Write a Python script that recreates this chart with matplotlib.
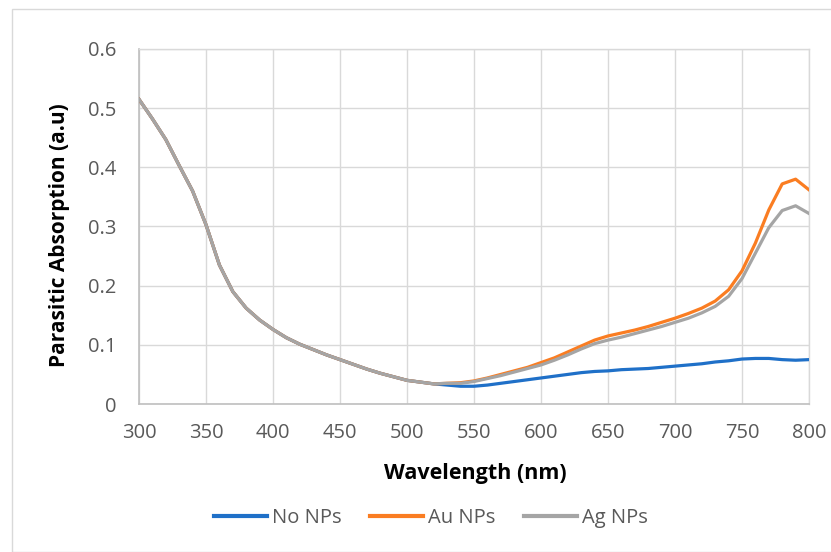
import matplotlib
matplotlib.use("Agg")
import matplotlib.pyplot as plt
from matplotlib.patches import Rectangle

# ---- data ----
wl_common = [300, 310, 320, 330, 340, 350, 360, 370, 380, 390, 400, 410, 420,
             430, 440, 450, 460, 470, 480, 490, 500, 510, 520]
abs_common = [0.515, 0.482, 0.447, 0.403, 0.360, 0.303, 0.235, 0.190, 0.162,
              0.142, 0.126, 0.112, 0.101, 0.092, 0.083, 0.075, 0.067, 0.059,
              0.052, 0.046, 0.040, 0.037, 0.034]

wl_tail = [530, 540, 550, 560, 570, 580, 590, 600, 610, 620, 630, 640, 650,
           660, 670, 680, 690, 700, 710, 720, 730, 740, 750, 760, 770, 780,
           790, 800]
no_nps_tail = [0.032, 0.030, 0.030, 0.032, 0.035, 0.038, 0.041, 0.044, 0.047,
               0.050, 0.053, 0.055, 0.056, 0.058, 0.059, 0.060, 0.062, 0.064,
               0.066, 0.068, 0.071, 0.073, 0.076, 0.077, 0.077, 0.075, 0.074,
               0.075]
au_nps_tail = [0.035, 0.036, 0.039, 0.044, 0.050, 0.056, 0.062, 0.070, 0.078,
               0.088, 0.098, 0.108, 0.115, 0.120, 0.125, 0.131, 0.138, 0.145,
               0.153, 0.162, 0.174, 0.193, 0.225, 0.272, 0.328, 0.372, 0.380,
               0.362]
ag_nps_tail = [0.035, 0.035, 0.038, 0.043, 0.048, 0.054, 0.060, 0.066, 0.074,
               0.083, 0.093, 0.102, 0.108, 0.113, 0.119, 0.125, 0.131, 0.138,
               0.145, 0.154, 0.165, 0.182, 0.212, 0.255, 0.298, 0.327, 0.335,
               0.322]

wavelength = wl_common + wl_tail
no_nps = abs_common + no_nps_tail
au_nps = abs_common + au_nps_tail
ag_nps = abs_common + ag_nps_tail

x_ticks = [300, 350, 400, 450, 500, 550, 600, 650, 700, 750, 800]
y_ticks = [0, 0.1, 0.2, 0.3, 0.4, 0.5, 0.6]
y_tick_labels = ["0", "0.1", "0.2", "0.3", "0.4", "0.5", "0.6"]

# ---- figure ----
plt.rcParams['font.family'] = ['Open Sans', 'DejaVu Sans']
W, H = 831, 552
fig = plt.figure(figsize=(W / 100, H / 100), dpi=100)

# chart-area border
fig.patches.append(Rectangle((12 / W, 0), 1.0, 1 - 9 / H, transform=fig.transFigure,
                             fill=False, edgecolor='#D9D9D9', linewidth=1.0))

ax = fig.add_axes([139 / W, 1 - 404 / H, (809 - 139) / W, (404 - 49) / H])

tick_color = '#595959'
ax.plot(wavelength, no_nps, color='#1F70C8', lw=2.3, label='No NPs', zorder=3)
ax.plot(wavelength, au_nps, color='#FA7D22', lw=2.3, label='Au NPs', zorder=4)
ax.plot(wavelength, ag_nps, color='#A5A5A5', lw=2.3, label='Ag NPs', zorder=5)

ax.set_xlim(300, 800)
ax.set_ylim(0, 0.6)
ax.set_xticks(x_ticks)
ax.set_yticks(y_ticks)
ax.set_yticklabels(y_tick_labels)
ax.grid(True, color='#D9D9D9', lw=1.0)
ax.set_axisbelow(True)
for s in ['top', 'right']:
    ax.spines[s].set_color('#D9D9D9')
    ax.spines[s].set_linewidth(1.0)
for s in ['left', 'bottom']:
    ax.spines[s].set_color('#BFBFBF')
    ax.spines[s].set_linewidth(1.2)
ax.tick_params(axis='both', length=0, labelsize=14.5, labelcolor=tick_color)
ax.tick_params(axis='y', pad=16)
ax.tick_params(axis='x', pad=14)

fig.text(475 / W, 1 - 473 / H, 'Wavelength (nm)', fontsize=15.5, fontweight='bold',
         color='black', ha='center', va='center')
fig.text(60 / W, 1 - 235 / H, 'Parasitic Absorption (a.u)', fontsize=15, fontweight='bold',
         color='black', ha='center', va='center', rotation=90)

leg = fig.legend(loc='center', bbox_to_anchor=(431 / W, 1 - 518 / H), ncol=3,
                 frameon=False, fontsize=14.5, handlelength=2.65, handletextpad=0.25,
                 columnspacing=1.4, labelcolor=tick_color)
for line in leg.get_lines():
    line.set_linewidth(3)

fig.savefig('out.png', dpi=100)
